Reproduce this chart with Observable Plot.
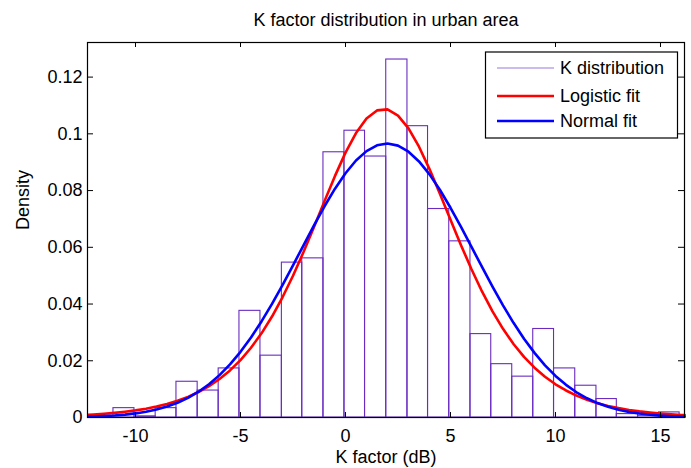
<!DOCTYPE html>
<html><head><meta charset="utf-8">
<script src="https://cdn.jsdelivr.net/npm/d3@7"></script>
<script src="https://cdn.jsdelivr.net/npm/@observablehq/plot@0.6"></script>
<style>body{margin:0;background:#fff} svg{display:block}</style>
</head><body><div id="chart"></div>
<script>
// Histogram bins (K factor, dB) and densities
const binLo = [-11.05,-10.05,-9.04,-8.05,-7.04,-6.04,-5.05,-4.05,-3.03,-2.06,-1.05,-0.05,0.93,1.94,2.95,3.93,4.94,5.95,6.94,7.94,8.94,9.93,10.94,11.95,12.92,13.93,14.93];
const binHi = [-10.05,-9.04,-8.05,-7.04,-6.04,-5.05,-4.05,-3.03,-2.06,-1.05,-0.05,0.93,1.94,2.95,3.93,4.94,5.95,6.94,7.94,8.94,9.93,10.94,11.95,12.92,13.93,14.93,15.91];
const density = [0.0033,0.0004,0.0033,0.0126,0.0095,0.0173,0.0376,0.0218,0.0546,0.0561,0.0935,0.1011,0.0920,0.1262,0.1027,0.0735,0.0621,0.0294,0.0188,0.0144,0.0312,0.0173,0.0112,0.0065,0.0012,0.0006,0.0018];

// Fitted curves
const curveX = [-12.25,-12,-11.5,-11,-10.5,-10,-9.5,-9,-8.5,-8,-7.5,-7,-6.5,-6,-5.5,-5,-4.5,-4,-3.5,-3,-2.5,-2,-1.5,-1,-0.5,0,0.5,1,1.5,2,2.5,3,3.5,4,4.5,5,5.5,6,6.5,7,7.5,8,8.5,9,9.5,10,10.5,11,11.5,12,12.5,13,13.5,14,14.5,15,15.5,16,16.15];
const normalFit = [0.00025,0.00031,0.00047,0.00069,0.00101,0.00144,0.00203,0.00282,0.00386,0.00521,0.00693,0.00908,0.01174,0.01494,0.01874,0.02316,0.02821,0.03386,0.04005,0.04669,0.05363,0.06071,0.06774,0.07446,0.08066,0.08611,0.09059,0.09391,0.09595,0.09660,0.09584,0.09370,0.09027,0.08571,0.08019,0.07394,0.06718,0.06015,0.05307,0.04615,0.03954,0.03338,0.02778,0.02278,0.01840,0.01466,0.01151,0.00890,0.00678,0.00509,0.00376,0.00275,0.00197,0.00140,0.00097,0.00067,0.00045,0.00030,0.00026];
const logisticFit = [0.00094,0.00106,0.00131,0.00163,0.00203,0.00251,0.00311,0.00386,0.00477,0.00590,0.00728,0.00898,0.01105,0.01356,0.01659,0.02024,0.02458,0.02967,0.03560,0.04239,0.04999,0.05832,0.06719,0.07628,0.08518,0.09337,0.10028,0.10540,0.10826,0.10862,0.10644,0.10192,0.09546,0.08757,0.07882,0.06970,0.06076,0.05226,0.04444,0.03742,0.03125,0.02591,0.02138,0.01755,0.01436,0.01170,0.00952,0.00772,0.00626,0.00506,0.00409,0.00330,0.00266,0.00215,0.00173,0.00139,0.00112,0.00090,0.00084];

const xTicks = [-10,-5,0,5,10,15];
const xTickLabels = ["-10","-5","0","5","10","15"];
const yTicks = [0,0.02,0.04,0.06,0.08,0.1,0.12];
const yTickLabels = ["0","0.02","0.04","0.06","0.08","0.1","0.12"];

const titleText = "K factor distribution in urban area";
const xLabel = "K factor (dB)";
const yLabel = "Density";
const legendLabels = ["K distribution","Logistic fit","Normal fit"];

const barColor = "#6a2cc0";
const legendBarColor = "#9a78dc";
const red = "#ff0000", blue = "#0000ff";

const bins = binLo.map((lo, i) => ({lo, hi: binHi[i], d: density[i]}));
const normalPts = curveX.map((x, i) => ({x, y: normalFit[i]}));
const logisticPts = curveX.map((x, i) => ({x, y: logisticFit[i]}));

const W = 691, H = 468, mL = 87, mR = 7, mT = 42, mB = 51;
const fw = W - mL - mR, fh = H - mT - mB;
const font = "'Liberation Sans', Arial, sans-serif";

const chart = Plot.plot({
  width: W, height: H,
  marginLeft: mL, marginRight: mR, marginTop: mT, marginBottom: mB,
  style: {fontFamily: font, fontSize: "18px", background: "white", color: "black"},
  x: {domain: [-12.286, 16.143]},
  y: {domain: [0, 0.1322]},
  marks: [
    Plot.rect(bins, {x1: "lo", x2: "hi", y1: 0, y2: "d", fill: "none", stroke: barColor, strokeWidth: 1.1}),
    Plot.line(logisticPts, {x: "x", y: "y", stroke: red, strokeWidth: 2.6}),
    Plot.line(normalPts, {x: "x", y: "y", stroke: blue, strokeWidth: 2.6}),
    Plot.frame({stroke: "black", strokeWidth: 1.2}),
    Plot.ruleX(xTicks, {x: d => d, insetTop: fh - 5, stroke: "black"}),
    Plot.ruleX(xTicks, {x: d => d, insetBottom: fh - 5, stroke: "black"}),
    Plot.ruleY(yTicks, {y: d => d, insetRight: fw - 6, stroke: "black"}),
    Plot.ruleY(yTicks, {y: d => d, insetLeft: fw - 6, stroke: "black"}),
    Plot.axisX(xTicks, {tickSize: 0, tickPadding: 12, label: null, fontSize: 18,
      tickFormat: d => xTickLabels[xTicks.indexOf(d)]}),
    Plot.axisY(yTicks, {tickSize: 0, tickPadding: 5, label: null, fontSize: 18,
      tickFormat: d => yTickLabels[yTicks.indexOf(d)]}),
    Plot.text([titleText], {text: d => d, frameAnchor: "top", dy: -29, lineAnchor: "top", fontSize: 18}),
    Plot.text([xLabel], {text: d => d, frameAnchor: "bottom", dy: 33, lineAnchor: "top", fontSize: 18}),
    Plot.text([yLabel], {text: d => d, frameAnchor: "left", dx: -64, rotate: -90, fontSize: 18})
  ]
});

// Legend box (inside the axes, top right)
const svg = d3.select(chart);
const lg = svg.append("g").attr("font-family", font).attr("font-size", 18).attr("text-anchor", "start");
lg.append("rect").attr("x", 485.5).attr("y", 52).attr("width", 192).attr("height", 86)
  .attr("fill", "white").attr("stroke", "black").attr("stroke-width", 1.2);
const rowsY = [68, 96, 121];
const legendColors = [legendBarColor, red, blue];
const legendWidths = [1.2, 2.6, 2.6];
legendLabels.forEach((lab, i) => {
  lg.append("line").attr("x1", 497).attr("x2", 554).attr("y1", rowsY[i]).attr("y2", rowsY[i])
    .attr("stroke", legendColors[i]).attr("stroke-width", legendWidths[i]);
  lg.append("text").attr("x", 560).attr("y", rowsY[i]).attr("dy", "0.35em")
    .attr("text-anchor", "start").attr("fill", "black").text(lab);
});

document.getElementById("chart").appendChild(chart);
</script>
</body></html>
